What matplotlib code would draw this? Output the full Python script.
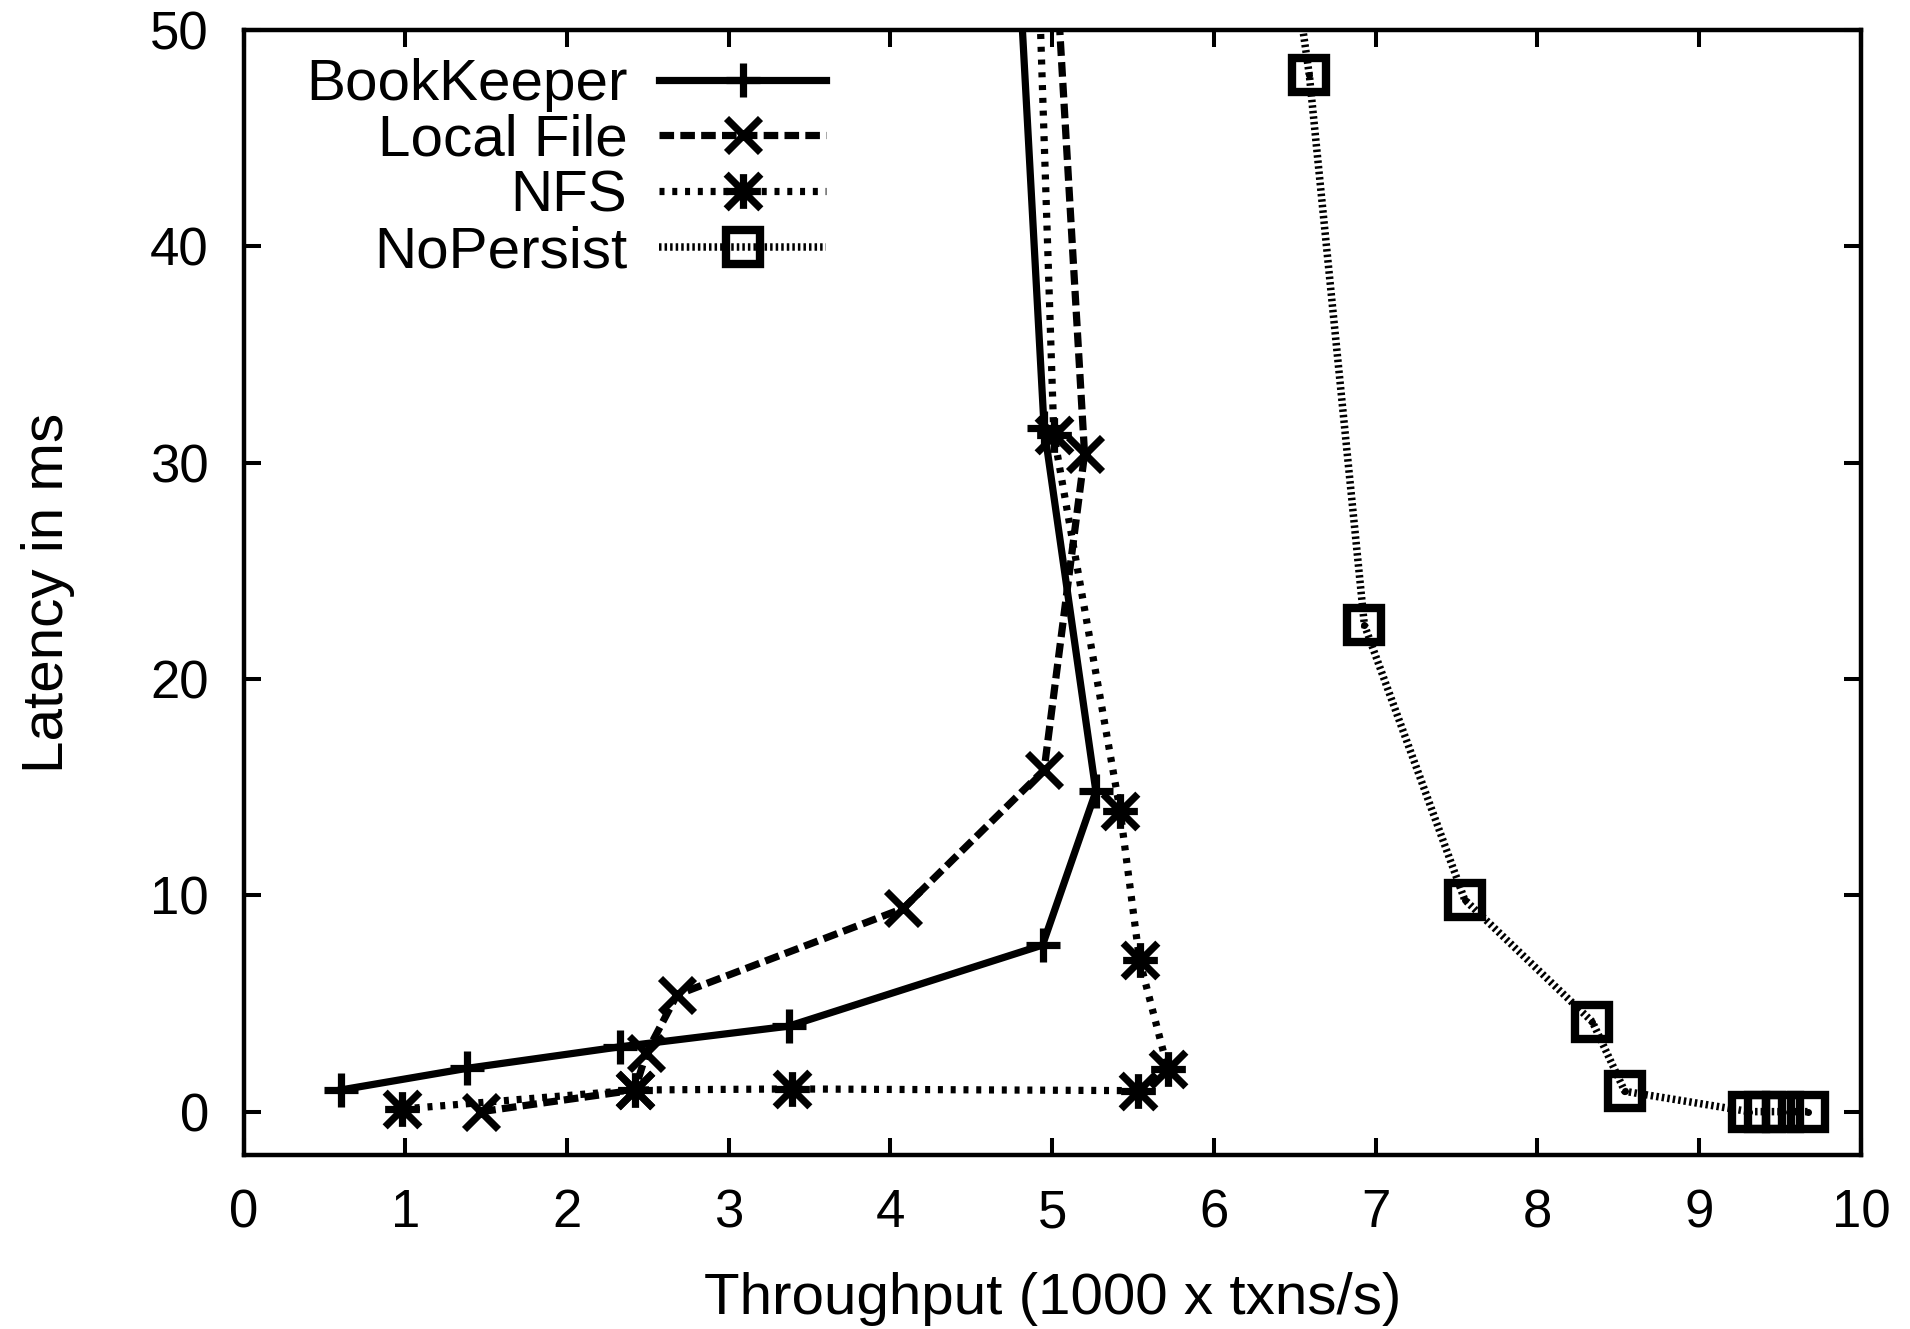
##### latency vs throughput, gnuplot style
import matplotlib
matplotlib.use('Agg')
import matplotlib.pyplot as plt
from matplotlib.path import Path

plt.rcParams['font.family'] = ['Liberation Sans', 'DejaVu Sans']
plt.rcParams['lines.scale_dashes'] = False

### data (throughput in 1000 txns/s, latency in ms)
bk_x = [0.60, 1.38, 2.33, 3.37, 4.94, 5.27, 4.95, 4.67]
bk_y = [1.0, 2.0, 3.0, 3.95, 7.7, 14.8, 31.6, 70.0]

lf_x = [1.47, 2.42, 2.49, 2.68, 4.08, 4.95, 5.20, 4.89]
lf_y = [0.0, 1.0, 2.7, 5.4, 9.4, 15.8, 30.4, 70.0]

nfs_x = [0.98, 2.42, 3.39, 5.53, 5.715, 5.54, 5.42, 5.01, 4.84]
nfs_y = [0.12, 1.0, 1.05, 0.97, 1.98, 7.0, 13.9, 31.3, 70.0]

np_x = [9.67, 9.52, 9.41, 9.31, 8.54, 8.34, 7.55, 6.93, 6.59, 6.17]
np_y = [0.0, 0.0, 0.0, 0.0, 0.94, 4.15, 9.8, 22.5, 47.9, 70.0]

labels = ['BookKeeper', 'Local File', 'NFS', 'NoPersist']
xticks = list(range(0, 11))
yticks = list(range(0, 51, 10))

#### gnuplot asterisk = plus + cross
star = Path([(-1, 0), (1, 0), (0, -1), (0, 1), (-1, -1), (1, 1), (-1, 1), (1, -1)],
            [Path.MOVETO, Path.LINETO] * 4)

fs_tick = 38
fs = 42
lw = 5.2
ms = 25
mew = 5.2

fig = plt.figure(figsize=(19.1, 13.29), dpi=100)
ax = fig.add_axes([0.1275, 0.131, 0.8468, 0.8464])

ax.plot(bk_x, bk_y, c='k', lw=lw, ls='-', marker='+', ms=ms, mew=mew, label=labels[0])
ax.plot(lf_x, lf_y, c='k', lw=lw, ls=(0, (10.5, 4.5)), marker='x', ms=ms, mew=mew, label=labels[1])
ax.plot(nfs_x, nfs_y, c='k', lw=lw, ls=(0, (3.6, 5.6)), marker=star, ms=ms, mew=mew, label=labels[2])
ax.plot(np_x, np_y, c='k', lw=5.4, ls=(0, (1.8, 2.2)), marker='s', ms=25, mew=6.0,
        mfc='none', label=labels[3])
ax.plot(np_x, np_y, c='k', lw=0, marker='o', ms=4)

ax.set_xlim(0, 10)
ax.set_ylim(-2, 50)
ax.set_xticks(xticks)
ax.set_yticks(yticks)
ax.tick_params(direction='in', length=12, width=2.9, top=True, right=True, labelsize=fs_tick)
ax.tick_params(axis='x', pad=24)
ax.tick_params(axis='y', pad=25)
for s in ax.spines.values():
    s.set_linewidth(3.2)

ax.set_xlabel('Throughput (1000 x txns/s)', fontsize=fs)
ax.set_ylabel('Latency in ms', fontsize=fs)
ax.xaxis.set_label_coords(0.5, -0.104)
ax.yaxis.set_label_coords(-0.104, 0.5)

### legend: text on the left, right aligned (markerfirst=False)
ax.legend(loc='upper left', bbox_to_anchor=(0.0385, 0.975), frameon=False, fontsize=fs,
          markerfirst=False, numpoints=1, handlelength=2.85, handletextpad=0.55,
          labelspacing=0.03, borderpad=0, borderaxespad=0)

plt.savefig('out.png', dpi=100)
